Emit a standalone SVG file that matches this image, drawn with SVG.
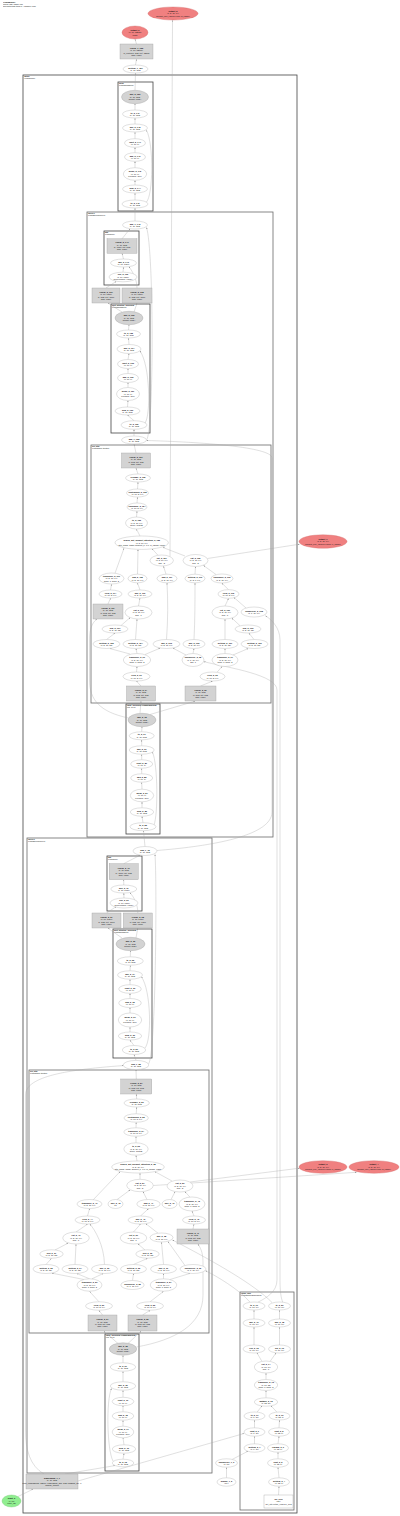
<svg xmlns="http://www.w3.org/2000/svg" width="400" height="1516" viewBox="0 0 400 1516">
<defs>
<marker id="a" viewBox="0 0 10 10" refX="10" refY="5" markerWidth="1.7" markerHeight="1.4" markerUnits="userSpaceOnUse" orient="auto"><path d="M0,0 L10,5 L0,10z" fill="#8a8a8a"/></marker>
<style>
text{font-family:"Liberation Sans",Arial,sans-serif;font-size:2.1px;fill:#111;text-anchor:middle}
.t{font-weight:bold}
.n ellipse{fill:#fff;stroke:#a8a8a8;stroke-width:0.35}
.g ellipse{fill:#d3d3d3;stroke:#9a9a9a;stroke-width:0.35}
.b rect{fill:#d3d3d3;stroke:#9a9a9a;stroke-width:0.35}
.w rect{fill:#fff;stroke:#9a9a9a;stroke-width:0.35}
.r ellipse{fill:#f08080;stroke:#d06868;stroke-width:0.35}
.gr ellipse{fill:#90ee90;stroke:#6cc46c;stroke-width:0.35}
.cl rect{fill:none;stroke:#444;stroke-width:0.8}
.cl.m rect{stroke:#6a6a6a}
.cl text{text-anchor:start;font-size:1.8px}
.hd text{text-anchor:start;font-size:1.9px}
#edges path{fill:none;stroke:#a4a4a4;stroke-width:0.35;marker-end:url(#a)}
#nodes,#clusters,#title{opacity:0.995}
</style>
</defs>
<rect width="400" height="1516" fill="#fff"/>
<g class="hd" id="title"><text x="3" y="2.6" class="t">GraphModule</text><text x="3" y="4.7">nodes: 152, edges: 187</text><text x="3" y="6.8">generated with torch.fx + graphviz (dot)</text></g>

<g id="clusters">
<g class="cl" id="c_model"><rect x="23" y="75" width="274" height="1438"/><text x="24.2" y="77.4" class="t">model</text><text x="24.2" y="79.4">(LlamaModel)</text></g>
<g class="cl" id="c_norm"><rect x="118" y="82" width="35" height="129"/><text x="119" y="84.4" class="t">norm</text><text x="119" y="86.4">(LlamaRMSNorm)</text></g>
<g class="cl m" id="c_l1"><rect x="87" y="212" width="186" height="625"/><text x="88" y="214.4" class="t">layers.1</text><text x="88" y="216.4">(LlamaDecoderLayer)</text></g>
<g class="cl" id="c_l1_mlp"><rect x="104" y="231" width="35" height="54"/><text x="105" y="233.4" class="t">mlp</text><text x="105" y="235.4">(LlamaMLP)</text></g>
<g class="cl" id="c_l1_pln"><rect x="111" y="304" width="39" height="129"/><text x="112" y="306.4" class="t">post_attention_layernorm</text><text x="112" y="308.4">(LlamaRMSNorm)</text></g>
<g class="cl m" id="c_l1_attn"><rect x="91" y="445" width="180" height="258"/><text x="92" y="447.4" class="t">self_attn</text><text x="92" y="449.4">(LlamaSdpaAttention)</text></g>
<g class="cl" id="c_l1_iln"><rect x="126" y="704" width="34" height="130"/><text x="127" y="706.4" class="t">input_layernorm (LlamaRMSNorm)</text><text x="127" y="708.4">eps=1e-06</text></g>
<g class="cl m" id="c_l0"><rect x="27" y="838" width="185" height="635"/><text x="28" y="840.4" class="t">layers.0</text><text x="28" y="842.4">(LlamaDecoderLayer)</text></g>
<g class="cl" id="c_l0_mlp"><rect x="107" y="856" width="35" height="55"/><text x="108" y="858.4" class="t">mlp</text><text x="108" y="860.4">(LlamaMLP)</text></g>
<g class="cl" id="c_l0_pln"><rect x="113" y="929" width="39" height="129"/><text x="114" y="931.4" class="t">post_attention_layernorm</text><text x="114" y="933.4">(LlamaRMSNorm)</text></g>
<g class="cl m" id="c_l0_attn"><rect x="29" y="1070" width="180" height="263"/><text x="30" y="1072.4" class="t">self_attn</text><text x="30" y="1074.4">(LlamaSdpaAttention)</text></g>
<g class="cl" id="c_l0_iln"><rect x="105" y="1334" width="34" height="137"/><text x="106" y="1336.4" class="t">input_layernorm (LlamaRMSNorm)</text><text x="106" y="1338.4">eps=1e-06</text></g>
<g class="cl m" id="c_rot"><rect x="240" y="1292" width="54" height="218"/><text x="241" y="1294.4" class="t">rotary_emb</text><text x="241" y="1296.4">(LlamaRotaryEmbedding)</text></g>
</g>

<g id="edges">
<path d="M135.5,65 L136.5,59.2"/>
<path d="M136.5,44 L135,39.2"/>
<path d="M135,90.3 L135.5,73.2"/>
<path d="M135,110 L135,103.8"/>
<path d="M135,124 L135,118.2"/>
<path d="M135,138.7 L135,132.2"/>
<path d="M135,152.7 L135,147.5"/>
<path d="M135,167.7 L135,161.5"/>
<path d="M135,185 L135,180.5"/>
<path d="M135,200 L135,193.2"/>
<path d="M146.5,202 C153,195 154,145 146.5,130.2"/>
<path d="M135,221 L135,208.2"/>
<path d="M122,238.8 L130,228.8"/>
<path d="M123.5,259 L122,253.4"/>
<path d="M123,272.2 L123.5,267.2"/>
<path d="M106,288 L116,281.5"/>
<path d="M137,288 C137,280 133,272 129,266.8"/>
<path d="M122,312 L108,303.2"/>
<path d="M134,312 L137,303.2"/>
<path d="M128.5,330 L129,324.9"/>
<path d="M129,344.5 L128.5,338.2"/>
<path d="M128,359.5 L129,353.7"/>
<path d="M128,373.5 L128,368.7"/>
<path d="M128,387.5 L128,382.7"/>
<path d="M127.5,407 L128,400.7"/>
<path d="M134,420.7 L127.5,415.2"/>
<path d="M145,423 C151,415 150,365 140,351"/>
<path d="M134,436 L134,429.5"/>
<path d="M146.5,440 C154,432 154,250 146.5,227.5"/>
<path d="M136,453 L134,444.2"/>
<path d="M138,474 L136,468.2"/>
<path d="M137.5,489 L138,482.2"/>
<path d="M137,503 L137.5,497.2"/>
<path d="M136.5,517 L137,511.2"/>
<path d="M140,536 L136.5,529.2"/>
<path d="M158,555.3 L152,548.7"/>
<path d="M170,556.5 L172.5,20.2"/>
<path d="M185,556 L163,547.5"/>
<path d="M207.5,558.5 L299.5,544.2"/>
<path d="M115,573.2 L124,548.3"/>
<path d="M137.5,574.2 L138,549.6"/>
<path d="M166,574.2 L163.5,566.2"/>
<path d="M195,574.2 L195.5,566.7"/>
<path d="M216,574.5 L203.5,565.5"/>
<path d="M110.5,590 L111.5,584.2"/>
<path d="M140,590 L137.5,583"/>
<path d="M228.5,589.7 L222,583.2"/>
<path d="M108,604 L110.5,598.2"/>
<path d="M138.5,606 L140,598.2"/>
<path d="M225,606 L228.5,598.5"/>
<path d="M246,608 L234,597.5"/>
<path d="M121,625.5 L130,617.7"/>
<path d="M240,625.7 L232,618.2"/>
<path d="M106.5,639.5 L115,633.2"/>
<path d="M135.5,639.5 L137,619.2"/>
<path d="M166.5,639.5 C168,620 168,600 167,583"/>
<path d="M194,639.5 C195,620 195,600 195,583"/>
<path d="M225,639.5 L225,619.2"/>
<path d="M254,639.5 L249,633.2"/>
<path d="M130,654 L110,648.6"/>
<path d="M137,653.5 L136,648.7"/>
<path d="M145,654.5 L160,648.2"/>
<path d="M193,653.5 L194,648.7"/>
<path d="M186,655 L173,648.2"/>
<path d="M225,653.5 L225,648.7"/>
<path d="M233,655 L248,648.6"/>
<path d="M136.5,672 L137,666.7"/>
<path d="M217,672.3 L222,666.5"/>
<path d="M141,686 L136.5,681.2"/>
<path d="M200.5,686 L212.5,681.2"/>
<path d="M140,713.4 L141,701.2"/>
<path d="M150,714.5 L195,701.2"/>
<path d="M128.5,718 C100,712 89.5,700 89.5,680 L89.5,640 C89.5,626 94,621 97,619.3"/>
<path d="M141.7,731.8 L142,726.9"/>
<path d="M141.7,745.8 L141.7,740"/>
<path d="M141.7,759.8 L141.7,754.4"/>
<path d="M141.7,773.8 L141.7,768.4"/>
<path d="M142,789.2 L141.7,782.4"/>
<path d="M142,807.8 L142,802"/>
<path d="M143,822.7 L142,816.4"/>
<path d="M154,825 C158,815 158,765 152.5,752"/>
<path d="M145,846.5 L143.5,830.9"/>
<path d="M157,850.5 C200,847 272,838 272,812 L272,458 C272,447 200,442 146.5,440.5"/>
<path d="M123.7,863.7 L140,855.3"/>
<path d="M123.8,885 L123.7,879.9"/>
<path d="M124,898 L123.8,893.2"/>
<path d="M106.5,913 L116,906.7"/>
<path d="M137.8,913 C138,905 134,897 130,892.8"/>
<path d="M122,938 L108,928.2"/>
<path d="M136,937.8 L137.8,928.2"/>
<path d="M130.3,956.8 L130.5,950.9"/>
<path d="M130,970.8 L130.3,965.4"/>
<path d="M130,984.7 L130,979.4"/>
<path d="M130,998.5 L130,993.5"/>
<path d="M130,1013 L130,1007.7"/>
<path d="M130,1032 L130,1027.2"/>
<path d="M134,1045.5 L130,1040.2"/>
<path d="M145,1048 C152,1040 151,990 141.5,977"/>
<path d="M136,1060.4 L134,1054.7"/>
<path d="M148.5,1064 C156,1055 157,880 155,854.5"/>
<path d="M136.3,1079 L136,1069.8"/>
<path d="M136.7,1099 L136.3,1094.2"/>
<path d="M136.2,1113.8 L136.7,1107.2"/>
<path d="M136,1127.8 L136.2,1122.4"/>
<path d="M136,1142.8 L136,1136.4"/>
<path d="M137,1161 L136,1155.4"/>
<path d="M140,1179.3 L140,1173.2"/>
<path d="M172,1181 L155,1171.7"/>
<path d="M190,1182 L299.5,1168.2"/>
<path d="M153.3,1185.5 L356.5,1172.3"/>
<path d="M93,1200 L120,1171.7"/>
<path d="M117,1199.6 L130,1190"/>
<path d="M147,1199.6 L143,1191.7"/>
<path d="M171,1199.6 L175,1191.9"/>
<path d="M190,1197.2 L185,1191.7"/>
<path d="M87.5,1216 L89.5,1208.7"/>
<path d="M140.5,1216 L148.5,1208.7"/>
<path d="M194,1216 L192,1211.2"/>
<path d="M193,1229 L194,1224.2"/>
<path d="M76,1232 L87.5,1224.2"/>
<path d="M133.5,1232 L140.5,1224.2"/>
<path d="M158,1233.2 L146,1223.8"/>
<path d="M55,1250 L68,1243.2"/>
<path d="M145,1250 L138,1243.9"/>
<path d="M46,1264.5 L51.5,1258.4"/>
<path d="M75,1264.5 L76,1244.2"/>
<path d="M104.5,1264.5 C104,1245 95,1230 90,1224.2"/>
<path d="M133.5,1264.5 L147.5,1258.4"/>
<path d="M163.5,1264.5 L161.5,1242.2"/>
<path d="M185,1265.5 L168,1241.6"/>
<path d="M84,1279.5 L52,1273.2"/>
<path d="M89.5,1278.8 L77,1273.6"/>
<path d="M92,1278.8 L103,1273.6"/>
<path d="M132.5,1280.5 L133.5,1273.7"/>
<path d="M163.5,1278.8 L163.5,1273.7"/>
<path d="M170,1279.5 L190,1273.4"/>
<path d="M99,1301.8 L89.5,1291.4"/>
<path d="M150,1301.8 L163.5,1291.4"/>
<path d="M102.5,1315 L99,1310.4"/>
<path d="M142.5,1315 L150,1310.4"/>
<path d="M118,1343.5 L104,1331.2"/>
<path d="M128,1343.5 L141,1331.2"/>
<path d="M136.5,1347 C175,1340 203,1325 203,1295 L203,1262 C203,1252 200,1247 198,1244.2"/>
<path d="M123,1362.8 L123,1355.4"/>
<path d="M123,1381.8 L123,1371.4"/>
<path d="M123,1397.3 L123,1390.4"/>
<path d="M123,1411.8 L123,1405.9"/>
<path d="M123,1426.2 L123,1420.4"/>
<path d="M124,1444.8 L123,1438"/>
<path d="M123,1459.2 L124,1453.4"/>
<path d="M113,1461 C107,1450 106,1400 111.5,1388.5"/>
<path d="M65,1474 L115,1465.6"/>
<path d="M44,1474 C30,1466 25.5,1450 25.5,1430 L25.5,1095 C25.5,1078 60,1070 123.2,1065.6"/>
<path d="M78,1481 L244,1433.5"/>
<path d="M18,1496.5 L33,1489.2"/>
<path d="M278.5,1495 L279,1486.4"/>
<path d="M279,1477.8 L278,1467.4"/>
<path d="M278,1458.8 L278,1452.2"/>
<path d="M278,1443.8 L279,1436.2"/>
<path d="M279,1427.8 L279.5,1420.2"/>
<path d="M277,1412.2 L271,1405.8"/>
<path d="M226.5,1477.8 L226.5,1467.4"/>
<path d="M232,1459.5 L248,1451.2"/>
<path d="M254.5,1444 L254.5,1436.2"/>
<path d="M254.5,1428 L254.5,1420.2"/>
<path d="M257,1412.2 L262,1405.9"/>
<path d="M266,1397.8 L266,1390.7"/>
<path d="M266,1379.5 L266,1373.2"/>
<path d="M262,1361.5 L257,1353"/>
<path d="M270,1361.5 L276,1353"/>
<path d="M254,1345 L254,1327.2"/>
<path d="M279.5,1345 L279.5,1327.2"/>
<path d="M254,1319 L254,1310.2"/>
<path d="M279.5,1319 L279.5,1310.2"/>
<path d="M283,1303 C281,1298 280,1292 280,1280 L280,640 C280,628 272,620 265.5,615.7"/>
<path d="M258,1302.2 C266,1298 277,1292 277,1280 L277,690 C277,675 230,668 204,661.7"/>
<path d="M250,1302.2 C240,1290 215,1275 205.5,1270.8"/>
<path d="M272,1302.5 C255,1285 215,1262 172.5,1240"/>
</g>

<g id="nodes">
<g id="out_key1" class="r"><ellipse cx="173" cy="13.5" rx="25" ry="6.5"/><text x="173" y="11.9"><tspan class="t">output_2</tspan><tspan x="173" dy="2.4">(1, 8, 16, 64)</tspan><tspan x="173" dy="2.4">present_key_values.1.key (k_cache)</tspan></text></g>
<g id="out_logits" class="r"><ellipse cx="135" cy="32.5" rx="13" ry="6.5"/><text x="135" y="30.9"><tspan class="t">output_0</tspan><tspan x="135" dy="2.4">(1, 16, 32000)</tspan><tspan x="135" dy="2.4">logits</tspan></text></g>
<g id="lm_head" class="b"><rect x="120" y="44" width="33" height="15"/><text x="136.5" y="48.7"><tspan class="t">Linear_1_152</tspan><tspan x="136.5" dy="2.4">(1, 16, 32000)</tspan><tspan x="136.5" dy="2.4">in_features=512, out=32000</tspan><tspan x="136.5" dy="2.4">bias=False</tspan></text></g>
<g id="n151" class="n"><ellipse cx="135.5" cy="69" rx="12.5" ry="4"/><text x="135.5" y="68.6"><tspan class="t">getitem_1_151</tspan><tspan x="135.5" dy="2.4">(1, 16, 512)</tspan></text></g>

<g id="n150" class="g"><ellipse cx="135" cy="97" rx="13.5" ry="6.7"/><text x="135" y="95.4"><tspan class="t">mul_2_150</tspan><tspan x="135" dy="2.4">(1, 16, 512)</tspan><tspan x="135" dy="2.4">weight: (512,)</tspan></text></g>
<g id="n149" class="n"><ellipse cx="135" cy="114" rx="12.5" ry="4"/><text x="135" y="113.6"><tspan class="t">to_2_149</tspan><tspan x="135" dy="2.4">(1, 16, 512)</tspan></text></g>
<g id="n148" class="n"><ellipse cx="135" cy="128" rx="12.5" ry="4"/><text x="135" y="127.6"><tspan class="t">mul_2_148</tspan><tspan x="135" dy="2.4">(1, 16, 512)</tspan></text></g>
<g id="n147" class="n"><ellipse cx="135" cy="143" rx="10.5" ry="4.3"/><text x="135" y="142.6"><tspan class="t">rsqrt_2_147</tspan><tspan x="135" dy="2.4">(1, 16, 1)</tspan></text></g>
<g id="n146" class="n"><ellipse cx="135" cy="157" rx="10.5" ry="4.3"/><text x="135" y="156.6"><tspan class="t">add_2_146</tspan><tspan x="135" dy="2.4">(1, 16, 1)</tspan></text></g>
<g id="n145" class="n"><ellipse cx="135" cy="174" rx="11.7" ry="6.3"/><text x="135" y="172.4"><tspan class="t">mean_2_145</tspan><tspan x="135" dy="2.4">(1, 16, 1)</tspan><tspan x="135" dy="2.4">keepdim=True</tspan></text></g>
<g id="n144" class="n"><ellipse cx="135" cy="189" rx="12.5" ry="4"/><text x="135" y="188.6"><tspan class="t">pow_2_144</tspan><tspan x="135" dy="2.4">(1, 16, 512)</tspan></text></g>
<g id="n143" class="n"><ellipse cx="135" cy="204" rx="13" ry="4"/><text x="135" y="203.6"><tspan class="t">to_2_143</tspan><tspan x="135" dy="2.4">(1, 16, 512)</tspan></text></g>

<g id="n142" class="n"><ellipse cx="135" cy="225" rx="12.5" ry="4"/><text x="135" y="224.6"><tspan class="t">add_1_142</tspan><tspan x="135" dy="2.4">(1, 16, 512)</tspan></text></g>
<g id="n141" class="b"><rect x="107" y="238.8" width="30" height="14.5"/><text x="122" y="243.2"><tspan class="t">Linear_2_141</tspan><tspan x="122" dy="2.4">(1, 16, 512)</tspan><tspan x="122" dy="2.4">in=1376, out=512</tspan><tspan x="122" dy="2.4">bias=False</tspan></text></g>
<g id="n140" class="n"><ellipse cx="123.5" cy="263" rx="13" ry="4"/><text x="123.5" y="262.6"><tspan class="t">mul_2_140</tspan><tspan x="123.5" dy="2.4">(1, 16, 1376)</tspan></text></g>
<g id="n139" class="n"><ellipse cx="123" cy="277" rx="14" ry="4.8"/><text x="123" y="275.4"><tspan class="t">silu_2_139</tspan><tspan x="123" dy="2.4">(1, 16, 1376)</tspan><tspan x="123" dy="2.4">SiLU(inplace=False)</tspan></text></g>
<g id="n137" class="b"><rect x="92" y="288" width="28" height="15"/><text x="106" y="292.7"><tspan class="t">Linear_2_137</tspan><tspan x="106" dy="2.4">(1, 16, 1376)</tspan><tspan x="106" dy="2.4">in=512, out=1376</tspan><tspan x="106" dy="2.4">bias=False</tspan></text></g>
<g id="n138" class="b"><rect x="122" y="288" width="30" height="15"/><text x="137" y="292.7"><tspan class="t">Linear_2_138</tspan><tspan x="137" dy="2.4">(1, 16, 1376)</tspan><tspan x="137" dy="2.4">in=512, out=1376</tspan><tspan x="137" dy="2.4">bias=False</tspan></text></g>
<g id="n136" class="g"><ellipse cx="129" cy="318" rx="14" ry="6.7"/><text x="129" y="316.4"><tspan class="t">mul_2_136</tspan><tspan x="129" dy="2.4">(1, 16, 512)</tspan><tspan x="129" dy="2.4">weight: (512,)</tspan></text></g>
<g id="n135" class="n"><ellipse cx="128.5" cy="334" rx="12" ry="4"/><text x="128.5" y="333.6"><tspan class="t">to_2_135</tspan><tspan x="128.5" dy="2.4">(1, 16, 512)</tspan></text></g>
<g id="n134" class="n"><ellipse cx="129" cy="349" rx="12" ry="4.5"/><text x="129" y="348.6"><tspan class="t">mul_2_134</tspan><tspan x="129" dy="2.4">(1, 16, 512)</tspan></text></g>
<g id="n133" class="n"><ellipse cx="128" cy="364" rx="10.5" ry="4.5"/><text x="128" y="363.6"><tspan class="t">rsqrt_2_133</tspan><tspan x="128" dy="2.4">(1, 16, 1)</tspan></text></g>
<g id="n132" class="n"><ellipse cx="128" cy="378" rx="10.5" ry="4.5"/><text x="128" y="377.6"><tspan class="t">add_2_132</tspan><tspan x="128" dy="2.4">(1, 16, 1)</tspan></text></g>
<g id="n131" class="n"><ellipse cx="128" cy="394" rx="11.5" ry="6.5"/><text x="128" y="392.4"><tspan class="t">mean_2_131</tspan><tspan x="128" dy="2.4">(1, 16, 1)</tspan><tspan x="128" dy="2.4">keepdim=True</tspan></text></g>
<g id="n130" class="n"><ellipse cx="127.5" cy="411" rx="12.5" ry="4"/><text x="127.5" y="410.6"><tspan class="t">pow_2_130</tspan><tspan x="127.5" dy="2.4">(1, 16, 512)</tspan></text></g>
<g id="n129" class="n"><ellipse cx="134" cy="425" rx="13" ry="4.3"/><text x="134" y="424.6"><tspan class="t">to_2_129</tspan><tspan x="134" dy="2.4">(1, 16, 512)</tspan></text></g>
<g id="n128" class="n"><ellipse cx="134" cy="440" rx="12.5" ry="4"/><text x="134" y="439.6"><tspan class="t">add_1_128</tspan><tspan x="134" dy="2.4">(1, 16, 512)</tspan></text></g>

<g id="n127" class="b"><rect x="121.5" y="453" width="29" height="15"/><text x="136" y="457.7"><tspan class="t">Linear_2_127</tspan><tspan x="136" dy="2.4">(1, 16, 512)</tspan><tspan x="136" dy="2.4">in=512, out=512</tspan><tspan x="136" dy="2.4">bias=False</tspan></text></g>
<g id="n126" class="n"><ellipse cx="138" cy="478" rx="12.5" ry="4"/><text x="138" y="477.6"><tspan class="t">reshape_2_126</tspan><tspan x="138" dy="2.4">(1, 16, 512)</tspan></text></g>
<g id="n125" class="n"><ellipse cx="137.5" cy="493" rx="11" ry="4"/><text x="137.5" y="492.6"><tspan class="t">contiguous_2_125</tspan><tspan x="137.5" dy="2.4">(1, 16, 8, 64)</tspan></text></g>
<g id="n124" class="n"><ellipse cx="137" cy="507" rx="10" ry="4"/><text x="137" y="506.6"><tspan class="t">transpose_2_124</tspan><tspan x="137" dy="2.4">(1, 16, 8, 64)</tspan></text></g>
<g id="n123" class="n"><ellipse cx="136.5" cy="523" rx="11" ry="6"/><text x="136.5" y="521.4"><tspan class="t">to_2_123</tspan><tspan x="136.5" dy="2.4">(1, 8, 16, 64)</tspan><tspan x="136.5" dy="2.4">dtype=float32</tspan></text></g>
<g id="n122" class="n"><ellipse cx="141.7" cy="542.7" rx="26.7" ry="6.7"/><text x="141.7" y="541.1"><tspan class="t">scaled_dot_product_attention_2_122</tspan><tspan x="141.7" dy="2.4">(1, 8, 16, 64)</tspan><tspan x="141.7" dy="2.4">attn_mask=mask, dropout_p=0.0, is_causal=False</tspan></text></g>
<g id="n121" class="n"><ellipse cx="161.7" cy="560.5" rx="11.7" ry="5.5"/><text x="161.7" y="558.9"><tspan class="t">cat_2_121</tspan><tspan x="161.7" dy="2.4">(1, 8, 16, 64)</tspan><tspan x="161.7" dy="2.4">dim=-2</tspan></text></g>
<g id="n120" class="n"><ellipse cx="195.5" cy="560.5" rx="12.5" ry="6"/><text x="195.5" y="558.9"><tspan class="t">cat_2_120</tspan><tspan x="195.5" dy="2.4">(1, 8, 16, 64)</tspan><tspan x="195.5" dy="2.4">dim=-2</tspan></text></g>
<g id="out_val1" class="r"><ellipse cx="323" cy="541.5" rx="24" ry="6.7"/><text x="323" y="539.9"><tspan class="t">output_1</tspan><tspan x="323" dy="2.4">(1, 8, 16, 64)</tspan><tspan x="323" dy="2.4">present_key_values.1.value (v_cache)</tspan></text></g>
<g id="n119" class="n"><ellipse cx="111.5" cy="578.5" rx="12.5" ry="5.5"/><text x="111.5" y="576.9"><tspan class="t">transpose_2_119</tspan><tspan x="111.5" dy="2.4">(1, 8, 16, 64)</tspan><tspan x="111.5" dy="2.4">dim0=1, dim1=2</tspan></text></g>
<g id="n118" class="n"><ellipse cx="137.5" cy="578.5" rx="9.5" ry="4.3"/><text x="137.5" y="578.1"><tspan class="t">add_2_118</tspan><tspan x="137.5" dy="2.4">(1, 8, 16, 64)</tspan></text></g>
<g id="n117" class="n"><ellipse cx="167" cy="578.5" rx="10" ry="4.3"/><text x="167" y="578.1"><tspan class="t">add_2_117</tspan><tspan x="167" dy="2.4">(1, 8, 16, 64)</tspan></text></g>
<g id="n116" class="n"><ellipse cx="195" cy="578.5" rx="10" ry="4.3"/><text x="195" y="578.1"><tspan class="t">getitem_2_116</tspan><tspan x="195" dy="2.4">(1, 8, 0, 64)</tspan></text></g>
<g id="n115" class="n"><ellipse cx="222" cy="578.5" rx="11" ry="4.5"/><text x="222" y="578.1"><tspan class="t">transpose_2_115</tspan><tspan x="222" dy="2.4">(1, 8, 16, 64)</tspan></text></g>
<g id="n114" class="n"><ellipse cx="110.5" cy="594" rx="11.5" ry="4"/><text x="110.5" y="593.6"><tspan class="t">view_2_114</tspan><tspan x="110.5" dy="2.4">(1, 16, 8, 64)</tspan></text></g>
<g id="n113" class="n"><ellipse cx="140" cy="594" rx="12" ry="4"/><text x="140" y="593.6"><tspan class="t">mul_2_113</tspan><tspan x="140" dy="2.4">(1, 8, 16, 64)</tspan></text></g>
<g id="n112" class="n"><ellipse cx="228.5" cy="594" rx="10.5" ry="4.3"/><text x="228.5" y="593.6"><tspan class="t">view_2_112</tspan><tspan x="228.5" dy="2.4">(1, 16, 8, 64)</tspan></text></g>
<g id="n111" class="b"><rect x="93" y="604" width="30" height="15"/><text x="108" y="608.7"><tspan class="t">Linear_2_111</tspan><tspan x="108" dy="2.4">(1, 16, 512)</tspan><tspan x="108" dy="2.4">in=512, out=512</tspan><tspan x="108" dy="2.4">bias=False</tspan></text></g>
<g id="n110" class="n"><ellipse cx="138.5" cy="612.5" rx="13.5" ry="6.5"/><text x="138.5" y="610.9"><tspan class="t">cat_2_110</tspan><tspan x="138.5" dy="2.4">(1, 8, 16, 64)</tspan><tspan x="138.5" dy="2.4">dim=-1</tspan></text></g>
<g id="n109" class="n"><ellipse cx="225" cy="612.5" rx="13" ry="6.5"/><text x="225" y="610.9"><tspan class="t">cat_2_109</tspan><tspan x="225" dy="2.4">(1, 8, 16, 64)</tspan><tspan x="225" dy="2.4">dim=-1</tspan></text></g>
<g id="n108" class="n"><ellipse cx="254" cy="612" rx="13" ry="5"/><text x="254" y="611.6"><tspan class="t">unsqueeze_2_108</tspan><tspan x="254" dy="2.4">(1, 1, 16, 64)</tspan></text></g>
<g id="n107" class="n"><ellipse cx="115" cy="629" rx="13" ry="4"/><text x="115" y="628.6"><tspan class="t">neg_2_107</tspan><tspan x="115" dy="2.4">(1, 8, 16, 32)</tspan></text></g>
<g id="n106" class="n"><ellipse cx="248" cy="629" rx="13" ry="4"/><text x="248" y="628.6"><tspan class="t">neg_2_106</tspan><tspan x="248" dy="2.4">(1, 8, 16, 32)</tspan></text></g>
<g id="n105" class="n"><ellipse cx="106.5" cy="644" rx="13.5" ry="4.5"/><text x="106.5" y="643.6"><tspan class="t">getitem_2_105</tspan><tspan x="106.5" dy="2.4">(1, 8, 16, 32)</tspan></text></g>
<g id="n104" class="n"><ellipse cx="135.5" cy="644" rx="12.5" ry="4.5"/><text x="135.5" y="643.6"><tspan class="t">getitem_2_104</tspan><tspan x="135.5" dy="2.4">(1, 8, 16, 32)</tspan></text></g>
<g id="n103" class="n"><ellipse cx="166.5" cy="644" rx="13.5" ry="4.5"/><text x="166.5" y="643.6"><tspan class="t">mul_2_103</tspan><tspan x="166.5" dy="2.4">(1, 8, 16, 64)</tspan></text></g>
<g id="n102" class="n"><ellipse cx="194" cy="644" rx="11" ry="4.5"/><text x="194" y="643.6"><tspan class="t">mul_2_102</tspan><tspan x="194" dy="2.4">(1, 8, 16, 64)</tspan></text></g>
<g id="n101" class="n"><ellipse cx="225" cy="644" rx="13" ry="4.5"/><text x="225" y="643.6"><tspan class="t">getitem_2_101</tspan><tspan x="225" dy="2.4">(1, 8, 16, 32)</tspan></text></g>
<g id="n100" class="n"><ellipse cx="254.5" cy="644" rx="13.5" ry="4.5"/><text x="254.5" y="643.6"><tspan class="t">getitem_2_100</tspan><tspan x="254.5" dy="2.4">(1, 8, 16, 32)</tspan></text></g>
<g id="n99" class="n"><ellipse cx="137" cy="660" rx="13.7" ry="6.5"/><text x="137" y="658.4"><tspan class="t">transpose_2_99</tspan><tspan x="137" dy="2.4">(1, 8, 16, 64)</tspan><tspan x="137" dy="2.4">dim0=1, dim1=2</tspan></text></g>
<g id="n98" class="n"><ellipse cx="193" cy="660" rx="11" ry="6.5"/><text x="193" y="658.4"><tspan class="t">unsqueeze_2_98</tspan><tspan x="193" dy="2.4">(1, 1, 16, 64)</tspan><tspan x="193" dy="2.4">dim=1</tspan></text></g>
<g id="n97" class="n"><ellipse cx="225" cy="660" rx="13" ry="6.5"/><text x="225" y="658.4"><tspan class="t">transpose_2_97</tspan><tspan x="225" dy="2.4">(1, 8, 16, 64)</tspan><tspan x="225" dy="2.4">dim0=1, dim1=2</tspan></text></g>
<g id="n96" class="n"><ellipse cx="136.5" cy="676.5" rx="13.5" ry="4.5"/><text x="136.5" y="676.1"><tspan class="t">view_2_96</tspan><tspan x="136.5" dy="2.4">(1, 16, 8, 64)</tspan></text></g>
<g id="n95" class="n"><ellipse cx="212.5" cy="676.5" rx="12.5" ry="4.5"/><text x="212.5" y="676.1"><tspan class="t">view_2_95</tspan><tspan x="212.5" dy="2.4">(1, 16, 8, 64)</tspan></text></g>
<g id="n94" class="b"><rect x="126.5" y="686" width="29" height="15"/><text x="141" y="690.7"><tspan class="t">Linear_2_94</tspan><tspan x="141" dy="2.4">(1, 16, 512)</tspan><tspan x="141" dy="2.4">in=512, out=512</tspan><tspan x="141" dy="2.4">bias=False</tspan></text></g>
<g id="n93" class="b"><rect x="185" y="686" width="31" height="15"/><text x="200.5" y="690.7"><tspan class="t">Linear_2_93</tspan><tspan x="200.5" dy="2.4">(1, 16, 512)</tspan><tspan x="200.5" dy="2.4">in=512, out=512</tspan><tspan x="200.5" dy="2.4">bias=False</tspan></text></g>

<g id="n92" class="g"><ellipse cx="142" cy="720" rx="14" ry="6.7"/><text x="142" y="718.4"><tspan class="t">mul_2_92</tspan><tspan x="142" dy="2.4">(1, 16, 512)</tspan><tspan x="142" dy="2.4">weight: (512,)</tspan></text></g>
<g id="n91" class="n"><ellipse cx="141.7" cy="735.8" rx="12.5" ry="4"/><text x="141.7" y="735.4"><tspan class="t">to_2_91</tspan><tspan x="141.7" dy="2.4">(1, 16, 512)</tspan></text></g>
<g id="n90" class="n"><ellipse cx="141.7" cy="750" rx="12.5" ry="4.2"/><text x="141.7" y="749.6"><tspan class="t">mul_2_90</tspan><tspan x="141.7" dy="2.4">(1, 16, 512)</tspan></text></g>
<g id="n89" class="n"><ellipse cx="141.7" cy="764" rx="11" ry="4.2"/><text x="141.7" y="763.6"><tspan class="t">rsqrt_2_89</tspan><tspan x="141.7" dy="2.4">(1, 16, 1)</tspan></text></g>
<g id="n88" class="n"><ellipse cx="141.7" cy="778" rx="11" ry="4.2"/><text x="141.7" y="777.6"><tspan class="t">add_2_88</tspan><tspan x="141.7" dy="2.4">(1, 16, 1)</tspan></text></g>
<g id="n87" class="n"><ellipse cx="142" cy="795.5" rx="11.7" ry="6.3"/><text x="142" y="793.9"><tspan class="t">mean_2_87</tspan><tspan x="142" dy="2.4">(1, 16, 1)</tspan><tspan x="142" dy="2.4">keepdim=True</tspan></text></g>
<g id="n86" class="n"><ellipse cx="142" cy="812" rx="11.7" ry="4.2"/><text x="142" y="811.6"><tspan class="t">pow_2_86</tspan><tspan x="142" dy="2.4">(1, 16, 512)</tspan></text></g>
<g id="n85" class="n"><ellipse cx="143" cy="826.7" rx="13" ry="4"/><text x="143" y="826.3"><tspan class="t">to_2_85</tspan><tspan x="143" dy="2.4">(1, 16, 512)</tspan></text></g>

<g id="n72" class="n"><ellipse cx="145" cy="851" rx="12" ry="4.5"/><text x="145" y="850.6"><tspan class="t">add_1_72</tspan><tspan x="145" dy="2.4">(1, 16, 512)</tspan></text></g>
<g id="n71" class="b"><rect x="109.2" y="863.7" width="29" height="16"/><text x="123.7" y="868.9"><tspan class="t">Linear_2_71</tspan><tspan x="123.7" dy="2.4">(1, 16, 512)</tspan><tspan x="123.7" dy="2.4">in=1376, out=512</tspan><tspan x="123.7" dy="2.4">bias=False</tspan></text></g>
<g id="n70" class="n"><ellipse cx="123.8" cy="889" rx="13" ry="4"/><text x="123.8" y="888.6"><tspan class="t">mul_2_70</tspan><tspan x="123.8" dy="2.4">(1, 16, 1376)</tspan></text></g>
<g id="n69" class="n"><ellipse cx="124" cy="903" rx="14" ry="5"/><text x="124" y="901.4"><tspan class="t">silu_2_69</tspan><tspan x="124" dy="2.4">(1, 16, 1376)</tspan><tspan x="124" dy="2.4">SiLU(inplace=False)</tspan></text></g>
<g id="n67" class="b"><rect x="92" y="913" width="29" height="15"/><text x="106.5" y="917.7"><tspan class="t">Linear_2_67</tspan><tspan x="106.5" dy="2.4">(1, 16, 1376)</tspan><tspan x="106.5" dy="2.4">in=512, out=1376</tspan><tspan x="106.5" dy="2.4">bias=False</tspan></text></g>
<g id="n68" class="b"><rect x="123.3" y="913" width="29" height="15"/><text x="137.8" y="917.7"><tspan class="t">Linear_2_68</tspan><tspan x="137.8" dy="2.4">(1, 16, 1376)</tspan><tspan x="137.8" dy="2.4">in=512, out=1376</tspan><tspan x="137.8" dy="2.4">bias=False</tspan></text></g>
<g id="n66" class="g"><ellipse cx="130.5" cy="944" rx="14.5" ry="6.7"/><text x="130.5" y="942.4"><tspan class="t">mul_2_66</tspan><tspan x="130.5" dy="2.4">(1, 16, 512)</tspan><tspan x="130.5" dy="2.4">weight: (512,)</tspan></text></g>
<g id="n65" class="n"><ellipse cx="130.3" cy="961" rx="13" ry="4.2"/><text x="130.3" y="960.6"><tspan class="t">to_2_65</tspan><tspan x="130.3" dy="2.4">(1, 16, 512)</tspan></text></g>
<g id="n64" class="n"><ellipse cx="130" cy="975" rx="12.5" ry="4.2"/><text x="130" y="974.6"><tspan class="t">mul_2_64</tspan><tspan x="130" dy="2.4">(1, 16, 512)</tspan></text></g>
<g id="n63" class="n"><ellipse cx="130" cy="989" rx="11.3" ry="4.3"/><text x="130" y="988.6"><tspan class="t">rsqrt_2_63</tspan><tspan x="130" dy="2.4">(1, 16, 1)</tspan></text></g>
<g id="n62" class="n"><ellipse cx="130" cy="1003" rx="11.3" ry="4.5"/><text x="130" y="1002.6"><tspan class="t">add_2_62</tspan><tspan x="130" dy="2.4">(1, 16, 1)</tspan></text></g>
<g id="n61" class="n"><ellipse cx="130" cy="1020" rx="11.7" ry="7"/><text x="130" y="1018.4"><tspan class="t">mean_2_61</tspan><tspan x="130" dy="2.4">(1, 16, 1)</tspan><tspan x="130" dy="2.4">keepdim=True</tspan></text></g>
<g id="n60" class="n"><ellipse cx="130" cy="1036" rx="11.7" ry="4"/><text x="130" y="1035.6"><tspan class="t">pow_2_60</tspan><tspan x="130" dy="2.4">(1, 16, 512)</tspan></text></g>
<g id="n59" class="n"><ellipse cx="134" cy="1050" rx="11.7" ry="4.5"/><text x="134" y="1049.6"><tspan class="t">to_2_59</tspan><tspan x="134" dy="2.4">(1, 16, 512)</tspan></text></g>
<g id="n58" class="n"><ellipse cx="136" cy="1065" rx="12.8" ry="4.6"/><text x="136" y="1064.6"><tspan class="t">add_1_58</tspan><tspan x="136" dy="2.4">(1, 16, 512)</tspan></text></g>

<g id="n57" class="b"><rect x="120.8" y="1079" width="31" height="15"/><text x="136.3" y="1083.7"><tspan class="t">Linear_2_57</tspan><tspan x="136.3" dy="2.4">(1, 16, 512)</tspan><tspan x="136.3" dy="2.4">in=512, out=512</tspan><tspan x="136.3" dy="2.4">bias=False</tspan></text></g>
<g id="n56" class="n"><ellipse cx="136.7" cy="1103" rx="12.7" ry="4"/><text x="136.7" y="1102.6"><tspan class="t">reshape_2_56</tspan><tspan x="136.7" dy="2.4">(1, 16, 512)</tspan></text></g>
<g id="n55" class="n"><ellipse cx="136.2" cy="1118" rx="12.2" ry="4.2"/><text x="136.2" y="1117.6"><tspan class="t">contiguous_2_55</tspan><tspan x="136.2" dy="2.4">(1, 16, 8, 64)</tspan></text></g>
<g id="n54" class="n"><ellipse cx="136" cy="1132" rx="12.2" ry="4.2"/><text x="136" y="1131.6"><tspan class="t">transpose_2_54</tspan><tspan x="136" dy="2.4">(1, 16, 8, 64)</tspan></text></g>
<g id="n53" class="n"><ellipse cx="136" cy="1149" rx="12.2" ry="6.2"/><text x="136" y="1147.4"><tspan class="t">to_2_53</tspan><tspan x="136" dy="2.4">(1, 8, 16, 64)</tspan><tspan x="136" dy="2.4">dtype=float32</tspan></text></g>
<g id="n52" class="n"><ellipse cx="138" cy="1167" rx="26.3" ry="6"/><text x="138" y="1165.4"><tspan class="t">scaled_dot_product_attention_2_52</tspan><tspan x="138" dy="2.4">(1, 8, 16, 64)</tspan><tspan x="138" dy="2.4">attn_mask=mask, dropout_p=0.0, is_causal=False</tspan></text></g>
<g id="n51" class="n"><ellipse cx="140" cy="1185.5" rx="13.3" ry="6.2"/><text x="140" y="1183.9"><tspan class="t">cat_2_51</tspan><tspan x="140" dy="2.4">(1, 8, 16, 64)</tspan><tspan x="140" dy="2.4">dim=-2</tspan></text></g>
<g id="n50" class="n"><ellipse cx="180" cy="1186" rx="13" ry="6"/><text x="180" y="1184.4"><tspan class="t">cat_2_50</tspan><tspan x="180" dy="2.4">(1, 8, 16, 64)</tspan><tspan x="180" dy="2.4">dim=-2</tspan></text></g>
<g id="out_key0" class="r"><ellipse cx="323" cy="1167" rx="24" ry="6.3"/><text x="323" y="1165.4"><tspan class="t">output_3</tspan><tspan x="323" dy="2.4">(1, 8, 16, 64)</tspan><tspan x="323" dy="2.4">present_key_values.0.value (v_cache)</tspan></text></g>
<g id="out_val0" class="r"><ellipse cx="374" cy="1167" rx="25" ry="6.3"/><text x="374" y="1165.4"><tspan class="t">output_4</tspan><tspan x="374" dy="2.4">(1, 8, 16, 64)</tspan><tspan x="374" dy="2.4">present_key_values.0.key (k_cache)</tspan></text></g>
<g id="n49" class="n"><ellipse cx="89.5" cy="1204" rx="12.5" ry="4.5"/><text x="89.5" y="1203.6"><tspan class="t">transpose_2_49</tspan><tspan x="89.5" dy="2.4">(1, 8, 16, 64)</tspan></text></g>
<g id="n48" class="n"><ellipse cx="115.5" cy="1204" rx="7.5" ry="4.5"/><text x="115.5" y="1203.6"><tspan class="t">size_2_48</tspan><tspan x="115.5" dy="2.4">16</tspan></text></g>
<g id="n47" class="n"><ellipse cx="148.5" cy="1204" rx="11.7" ry="4.5"/><text x="148.5" y="1203.6"><tspan class="t">add_2_47</tspan><tspan x="148.5" dy="2.4">(1, 8, 16, 64)</tspan></text></g>
<g id="n46" class="n"><ellipse cx="169.5" cy="1204" rx="7.5" ry="4.5"/><text x="169.5" y="1203.6"><tspan class="t">size_2_46</tspan><tspan x="169.5" dy="2.4">16</tspan></text></g>
<g id="n45" class="n"><ellipse cx="192" cy="1204" rx="13" ry="7"/><text x="192" y="1202.4"><tspan class="t">transpose_2_45</tspan><tspan x="192" dy="2.4">(1, 8, 16, 64)</tspan><tspan x="192" dy="2.4">dim0=1, dim1=2</tspan></text></g>
<g id="n44" class="n"><ellipse cx="87.5" cy="1220" rx="12.5" ry="4"/><text x="87.5" y="1219.6"><tspan class="t">view_2_44</tspan><tspan x="87.5" dy="2.4">(1, 16, 8, 64)</tspan></text></g>
<g id="n43" class="n"><ellipse cx="140.5" cy="1220" rx="12.5" ry="4"/><text x="140.5" y="1219.6"><tspan class="t">mul_2_43</tspan><tspan x="140.5" dy="2.4">(1, 8, 16, 64)</tspan></text></g>
<g id="n42" class="n"><ellipse cx="194" cy="1220" rx="11.5" ry="4"/><text x="194" y="1219.6"><tspan class="t">view_2_42</tspan><tspan x="194" dy="2.4">(1, 16, 8, 64)</tspan></text></g>
<g id="n41" class="b"><rect x="177" y="1229" width="32" height="15"/><text x="193" y="1233.7"><tspan class="t">Linear_2_41</tspan><tspan x="193" dy="2.4">(1, 16, 512)</tspan><tspan x="193" dy="2.4">in=512, out=512</tspan><tspan x="193" dy="2.4">bias=False</tspan></text></g>
<g id="n40" class="n"><ellipse cx="76" cy="1238" rx="13.3" ry="6"/><text x="76" y="1236.4"><tspan class="t">cat_2_40</tspan><tspan x="76" dy="2.4">(1, 8, 16, 64)</tspan><tspan x="76" dy="2.4">dim=-1</tspan></text></g>
<g id="n39" class="n"><ellipse cx="133.5" cy="1238" rx="13.3" ry="6"/><text x="133.5" y="1236.4"><tspan class="t">cat_2_39</tspan><tspan x="133.5" dy="2.4">(1, 8, 16, 64)</tspan><tspan x="133.5" dy="2.4">dim=-1</tspan></text></g>
<g id="n38" class="n"><ellipse cx="161.5" cy="1237.5" rx="11.5" ry="4.5"/><text x="161.5" y="1237.1"><tspan class="t">mul_2_38</tspan><tspan x="161.5" dy="2.4">(1, 8, 16, 64)</tspan></text></g>
<g id="n37" class="n"><ellipse cx="51.5" cy="1254" rx="11.7" ry="4.2"/><text x="51.5" y="1253.6"><tspan class="t">neg_2_37</tspan><tspan x="51.5" dy="2.4">(1, 8, 16, 32)</tspan></text></g>
<g id="n36" class="n"><ellipse cx="147.5" cy="1254" rx="11.7" ry="4.2"/><text x="147.5" y="1253.6"><tspan class="t">neg_2_36</tspan><tspan x="147.5" dy="2.4">(1, 8, 16, 32)</tspan></text></g>
<g id="n35" class="n"><ellipse cx="46" cy="1269" rx="13" ry="4.5"/><text x="46" y="1268.6"><tspan class="t">getitem_2_35</tspan><tspan x="46" dy="2.4">(1, 8, 16, 32)</tspan></text></g>
<g id="n34" class="n"><ellipse cx="75" cy="1269" rx="13" ry="4.5"/><text x="75" y="1268.6"><tspan class="t">getitem_2_34</tspan><tspan x="75" dy="2.4">(1, 8, 16, 32)</tspan></text></g>
<g id="n33" class="n"><ellipse cx="104.5" cy="1269" rx="13" ry="4.5"/><text x="104.5" y="1268.6"><tspan class="t">mul_2_33</tspan><tspan x="104.5" dy="2.4">(1, 8, 16, 64)</tspan></text></g>
<g id="n32" class="n"><ellipse cx="133.5" cy="1269" rx="13" ry="4.5"/><text x="133.5" y="1268.6"><tspan class="t">getitem_2_32</tspan><tspan x="133.5" dy="2.4">(1, 8, 16, 32)</tspan></text></g>
<g id="n31" class="n"><ellipse cx="163.5" cy="1269" rx="13" ry="4.5"/><text x="163.5" y="1268.6"><tspan class="t">mul_2_31</tspan><tspan x="163.5" dy="2.4">(1, 8, 16, 64)</tspan></text></g>
<g id="n30" class="n"><ellipse cx="193" cy="1269" rx="13" ry="4.5"/><text x="193" y="1268.6"><tspan class="t">unsqueeze_2_30</tspan><tspan x="193" dy="2.4">(1, 1, 16, 64)</tspan></text></g>
<g id="n29" class="n"><ellipse cx="89.5" cy="1285" rx="12.5" ry="6.2"/><text x="89.5" y="1283.4"><tspan class="t">transpose_2_29</tspan><tspan x="89.5" dy="2.4">(1, 8, 16, 64)</tspan><tspan x="89.5" dy="2.4">dim0=1, dim1=2</tspan></text></g>
<g id="n28" class="n"><ellipse cx="132.5" cy="1285" rx="11.7" ry="4.5"/><text x="132.5" y="1284.6"><tspan class="t">unsqueeze_2_28</tspan><tspan x="132.5" dy="2.4">(1, 1, 16, 64)</tspan></text></g>
<g id="n27" class="n"><ellipse cx="163.5" cy="1285" rx="13.3" ry="6.2"/><text x="163.5" y="1283.4"><tspan class="t">transpose_2_27</tspan><tspan x="163.5" dy="2.4">(1, 8, 16, 64)</tspan><tspan x="163.5" dy="2.4">dim0=1, dim1=2</tspan></text></g>
<g id="n26" class="n"><ellipse cx="99" cy="1306" rx="13.5" ry="4.2"/><text x="99" y="1305.6"><tspan class="t">view_2_26</tspan><tspan x="99" dy="2.4">(1, 16, 8, 64)</tspan></text></g>
<g id="n25" class="n"><ellipse cx="150" cy="1306" rx="13.5" ry="4.2"/><text x="150" y="1305.6"><tspan class="t">view_2_25</tspan><tspan x="150" dy="2.4">(1, 16, 8, 64)</tspan></text></g>
<g id="n24" class="b"><rect x="88" y="1315" width="29" height="16"/><text x="102.5" y="1320.2"><tspan class="t">Linear_2_24</tspan><tspan x="102.5" dy="2.4">(1, 16, 512)</tspan><tspan x="102.5" dy="2.4">in=512, out=512</tspan><tspan x="102.5" dy="2.4">bias=False</tspan></text></g>
<g id="n23" class="b"><rect x="128" y="1315" width="29" height="16"/><text x="142.5" y="1320.2"><tspan class="t">Linear_2_23</tspan><tspan x="142.5" dy="2.4">(1, 16, 512)</tspan><tspan x="142.5" dy="2.4">in=512, out=512</tspan><tspan x="142.5" dy="2.4">bias=False</tspan></text></g>

<g id="n22" class="g"><ellipse cx="123" cy="1349" rx="13.7" ry="6.2"/><text x="123" y="1347.4"><tspan class="t">mul_2_22</tspan><tspan x="123" dy="2.4">(1, 16, 512)</tspan><tspan x="123" dy="2.4">weight: (512,)</tspan></text></g>
<g id="n21" class="n"><ellipse cx="123" cy="1367" rx="12.7" ry="4.2"/><text x="123" y="1366.6"><tspan class="t">to_2_21</tspan><tspan x="123" dy="2.4">(1, 16, 512)</tspan></text></g>
<g id="n20" class="n"><ellipse cx="123" cy="1386" rx="12.7" ry="4.2"/><text x="123" y="1385.6"><tspan class="t">mul_2_20</tspan><tspan x="123" dy="2.4">(1, 16, 512)</tspan></text></g>
<g id="n19" class="n"><ellipse cx="123" cy="1401.5" rx="10.8" ry="4.2"/><text x="123" y="1401.1"><tspan class="t">rsqrt_2_19</tspan><tspan x="123" dy="2.4">(1, 16, 1)</tspan></text></g>
<g id="n18" class="n"><ellipse cx="123" cy="1416" rx="10.8" ry="4.2"/><text x="123" y="1415.6"><tspan class="t">add_2_18</tspan><tspan x="123" dy="2.4">(1, 16, 1)</tspan></text></g>
<g id="n17" class="n"><ellipse cx="123" cy="1432" rx="10.8" ry="5.8"/><text x="123" y="1430.4"><tspan class="t">mean_2_17</tspan><tspan x="123" dy="2.4">(1, 16, 1)</tspan><tspan x="123" dy="2.4">keepdim=True</tspan></text></g>
<g id="n16" class="n"><ellipse cx="124" cy="1449" rx="11.7" ry="4.2"/><text x="124" y="1448.6"><tspan class="t">pow_2_16</tspan><tspan x="124" dy="2.4">(1, 16, 512)</tspan></text></g>
<g id="n15" class="n"><ellipse cx="123" cy="1463" rx="10.8" ry="3.8"/><text x="123" y="1462.6"><tspan class="t">to_2_15</tspan><tspan x="123" dy="2.4">(1, 16, 512)</tspan></text></g>

<g id="embed" class="b"><rect x="26" y="1474" width="52" height="15"/><text x="52" y="1478.7"><tspan class="t">Embedding_1_1</tspan><tspan x="52" dy="2.4">(1, 16, 512)</tspan><tspan x="52" dy="2.4">num_embeddings=32000, embedding_dim=512, padding_idx=0</tspan><tspan x="52" dy="2.4">embed_tokens</tspan></text></g>
<g id="input_ids" class="gr"><ellipse cx="11.5" cy="1501" rx="9.5" ry="6"/><text x="11.5" y="1499.4"><tspan class="t">input_0</tspan><tspan x="11.5" dy="2.4">(1, 16)</tspan><tspan x="11.5" dy="2.4">input_ids</tspan></text></g>

<g id="p0" class="n"><ellipse cx="226.5" cy="1482" rx="9.5" ry="4.2"/><text x="226.5" y="1481.6"><tspan class="t">arange_1_2</tspan><tspan x="226.5" dy="2.4">(16,)</tspan></text></g>
<g id="p1" class="n"><ellipse cx="226.5" cy="1463" rx="11" ry="4.2"/><text x="226.5" y="1462.6"><tspan class="t">unsqueeze_1_3</tspan><tspan x="226.5" dy="2.4">(1, 16)</tspan></text></g>
<g id="inv_freq" class="w"><rect x="264" y="1495" width="29" height="13"/><text x="278.5" y="1499.9"><tspan class="t">inv_freq</tspan><tspan x="278.5" dy="2.4">(32,)</tspan><tspan x="278.5" dy="2.4">get_attr rotary_emb.inv_freq</tspan></text></g>
<g id="r_q0" class="n"><ellipse cx="279" cy="1482" rx="10.5" ry="4.2"/><text x="279" y="1481.6"><tspan class="t">getitem_2_4</tspan><tspan x="279" dy="2.4">(1, 32, 1)</tspan></text></g>
<g id="r_q1" class="n"><ellipse cx="278" cy="1463" rx="10.5" ry="4.2"/><text x="278" y="1462.6"><tspan class="t">float_2_5</tspan><tspan x="278" dy="2.4">(1, 32, 1)</tspan></text></g>
<g id="r_q2" class="n"><ellipse cx="278" cy="1448" rx="10.5" ry="4.2"/><text x="278" y="1447.6"><tspan class="t">expand_2_6</tspan><tspan x="278" dy="2.4">(1, 32, 1)</tspan></text></g>
<g id="r_q3" class="n"><ellipse cx="279" cy="1432" rx="10.5" ry="4.2"/><text x="279" y="1431.6"><tspan class="t">float_2_8</tspan><tspan x="279" dy="2.4">(1, 32, 1)</tspan></text></g>
<g id="r_q4" class="n"><ellipse cx="279.5" cy="1416" rx="10.5" ry="4"/><text x="279.5" y="1415.6"><tspan class="t">to_2_10</tspan><tspan x="279.5" dy="2.4">(1, 32, 1)</tspan></text></g>
<g id="r_p2" class="n"><ellipse cx="254.5" cy="1448" rx="10.5" ry="4.2"/><text x="254.5" y="1447.6"><tspan class="t">getitem_2_7</tspan><tspan x="254.5" dy="2.4">(1, 1, 16)</tspan></text></g>
<g id="r_p3" class="n"><ellipse cx="254.5" cy="1432" rx="10.5" ry="4.2"/><text x="254.5" y="1431.6"><tspan class="t">float_2_9</tspan><tspan x="254.5" dy="2.4">(1, 1, 16)</tspan></text></g>
<g id="r_p4" class="n"><ellipse cx="254.5" cy="1416" rx="10.5" ry="4"/><text x="254.5" y="1415.6"><tspan class="t">to_2_11</tspan><tspan x="254.5" dy="2.4">(1, 1, 16)</tspan></text></g>
<g id="r_mm" class="n"><ellipse cx="266" cy="1402" rx="11.7" ry="4.2"/><text x="266" y="1401.6"><tspan class="t">matmul_2_12</tspan><tspan x="266" dy="2.4">(1, 32, 16)</tspan></text></g>
<g id="r_tr" class="n"><ellipse cx="266" cy="1385" rx="11.7" ry="5.5"/><text x="266" y="1383.4"><tspan class="t">transpose_2_13</tspan><tspan x="266" dy="2.4">(1, 16, 32)</tspan><tspan x="266" dy="2.4">dim0=1, dim1=2</tspan></text></g>
<g id="r_cat" class="n"><ellipse cx="266" cy="1367" rx="11.7" ry="6"/><text x="266" y="1365.4"><tspan class="t">cat_2_14</tspan><tspan x="266" dy="2.4">(1, 16, 64)</tspan><tspan x="266" dy="2.4">dim=-1</tspan></text></g>
<g id="r_cos" class="n"><ellipse cx="254" cy="1349" rx="11" ry="4"/><text x="254" y="1348.6"><tspan class="t">cos_2_15</tspan><tspan x="254" dy="2.4">(1, 16, 64)</tspan></text></g>
<g id="r_sin" class="n"><ellipse cx="279.5" cy="1349" rx="11" ry="4"/><text x="279.5" y="1348.6"><tspan class="t">sin_2_16</tspan><tspan x="279.5" dy="2.4">(1, 16, 64)</tspan></text></g>
<g id="r_mc" class="n"><ellipse cx="254" cy="1323" rx="11" ry="4"/><text x="254" y="1322.6"><tspan class="t">mul_2_17</tspan><tspan x="254" dy="2.4">(1, 16, 64)</tspan></text></g>
<g id="r_ms" class="n"><ellipse cx="279.5" cy="1323" rx="11" ry="4"/><text x="279.5" y="1322.6"><tspan class="t">mul_2_18</tspan><tspan x="279.5" dy="2.4">(1, 16, 64)</tspan></text></g>
<g id="r_tc" class="n"><ellipse cx="254" cy="1306" rx="11" ry="4"/><text x="254" y="1305.6"><tspan class="t">to_2_19</tspan><tspan x="254" dy="2.4">(1, 16, 64)</tspan></text></g>
<g id="r_ts" class="n"><ellipse cx="279.5" cy="1306" rx="11" ry="4"/><text x="279.5" y="1305.6"><tspan class="t">to_2_20</tspan><tspan x="279.5" dy="2.4">(1, 16, 64)</tspan></text></g>
</g>
</svg>
